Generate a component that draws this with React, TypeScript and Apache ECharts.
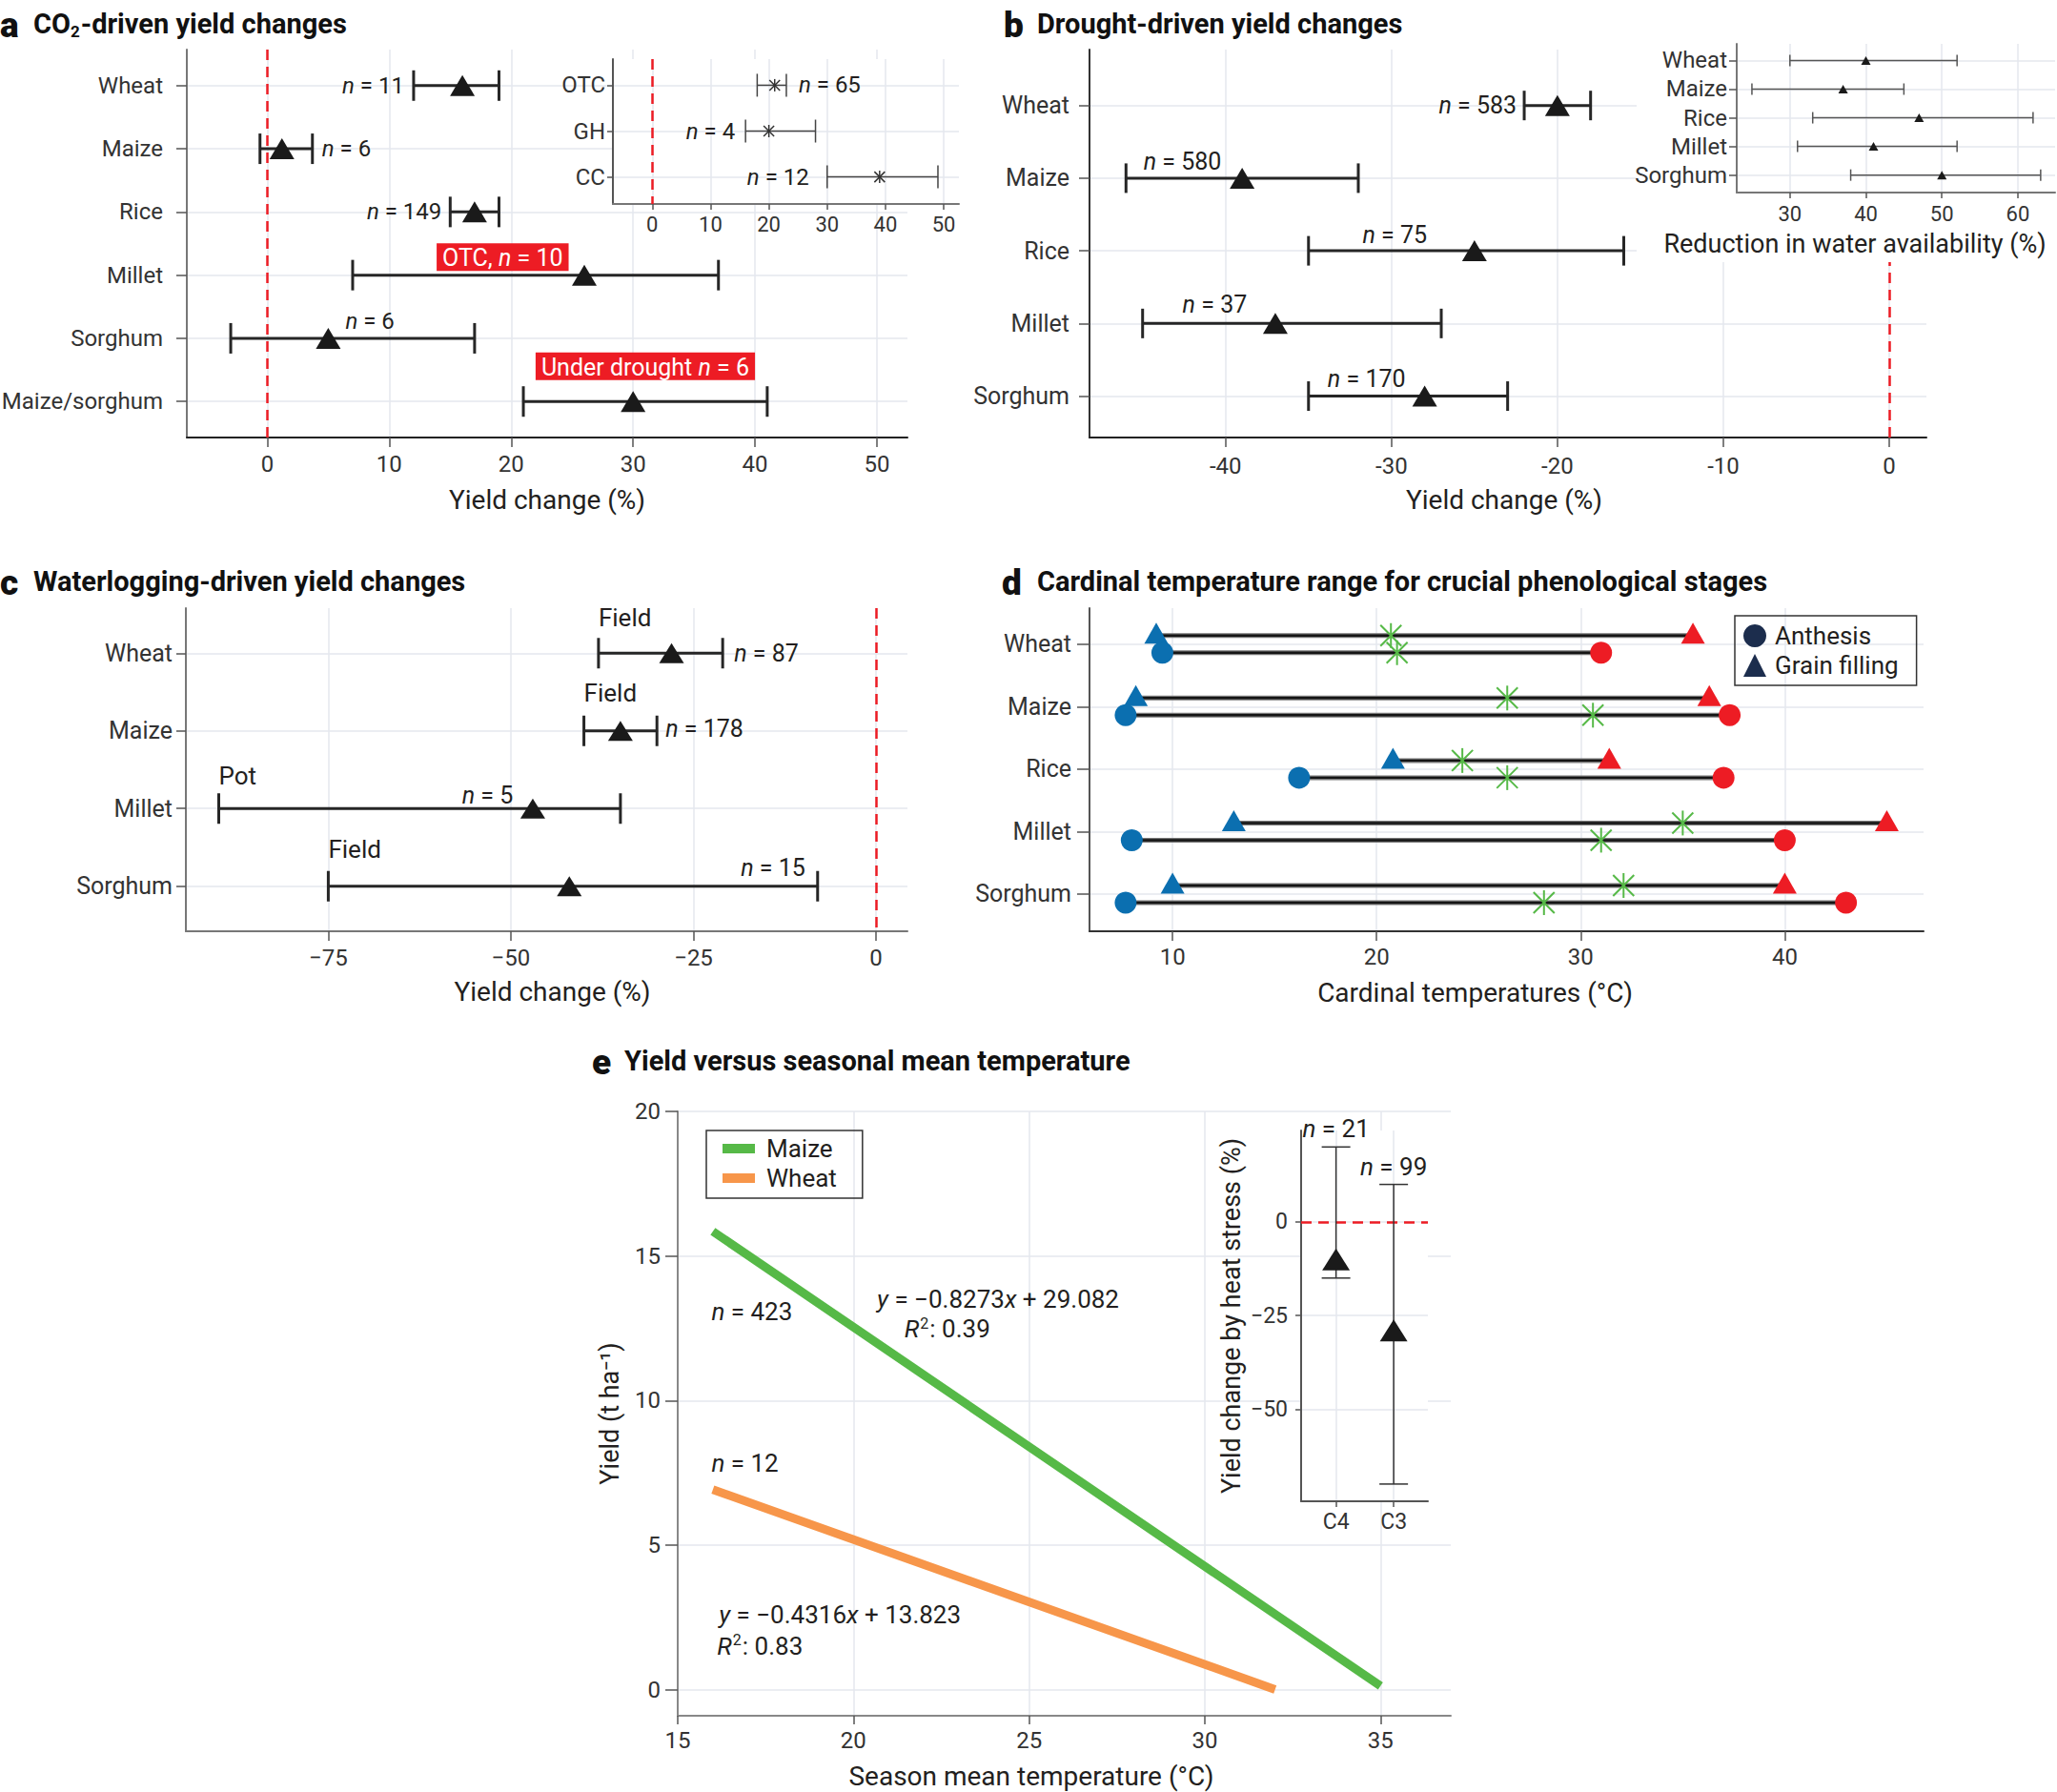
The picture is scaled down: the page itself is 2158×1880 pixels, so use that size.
import React, { useEffect, useRef } from 'react';
import * as echarts from 'echarts';

const FF = 'Roboto, "Noto Sans", "DejaVu Sans", sans-serif';
const INK = '#231f20';
const GRIDC = '#e5e7ee';
const RED = '#ed1c24';
const BLUE = '#0b6fb0';
const GREEN = '#56b947';
const NAVY = '#1c2d4d';
const BAR = '#262626';

// ---------- panel a: CO2-driven yield changes ----------
const aCrops = ['Wheat', 'Maize', 'Rice', 'Millet', 'Sorghum', 'Maize/sorghum'];
const aMean = [16, 1.2, 17, 26, 5, 30];
const aLow = [12, -0.6, 15, 7, -3, 21];
const aHigh = [19, 3.7, 19, 37, 17, 41];
const aN = [11, 6, 149, 10, 6, 6];
const aTicks = [0, 10, 20, 30, 40, 50];

const aiSystems = ['OTC', 'GH', 'CC'];
const aiMean = [21, 20, 39];
const aiLow = [18, 16, 30];
const aiHigh = [23, 28, 49];
const aiN = [65, 4, 12];

// ---------- panel b: drought ----------
const bCrops = ['Wheat', 'Maize', 'Rice', 'Millet', 'Sorghum'];
const bMean = [-20, -39, -25, -37, -28];
const bLow = [-22, -46, -35, -45, -35];
const bHigh = [-18, -32, -16, -27, -23];
const bN = [583, 580, 75, 37, 170];
const bTicks = [-40, -30, -20, -10, 0];

const biMean = [40, 37, 47, 41, 50];
const biLow = [30, 25, 33, 31, 38];
const biHigh = [52, 45, 62, 52, 63];
const biTicks = [30, 40, 50, 60];

// ---------- panel c: waterlogging ----------
const cCrops = ['Wheat', 'Maize', 'Millet', 'Sorghum'];
const cMean = [-28, -35, -47, -42];
const cLow = [-38, -40, -90, -75];
const cHigh = [-21, -30, -35, -8];
const cN = [87, 178, 5, 15];
const cSetting = ['Field', 'Field', 'Pot', 'Field'];
const cTicks = [-75, -50, -25, 0];

// ---------- panel d: cardinal temperatures ----------
const dCrops = ['Wheat', 'Maize', 'Rice', 'Millet', 'Sorghum'];
const dGrainMin = [9.2, 8.2, 20.8, 13, 10];
const dGrainOpt = [20.7, 26.4, 24.2, 35, 32.1];
const dGrainMax = [35.5, 36.3, 31.4, 45, 40];
const dAnthMin = [9.5, 7.7, 16.2, 8, 7.7];
const dAnthOpt = [21, 30.6, 26.4, 31, 28.2];
const dAnthMax = [31, 37.3, 37, 40, 43];
const dTicks = [10, 20, 30, 40];

// ---------- panel e: yield vs seasonal mean temperature ----------
const eMaizeLine = [[16, 15.85], [35, 0.13]];
const eWheatLine = [[16, 6.92], [32, 0.01]];
const eTicksX = [15, 20, 25, 30, 35];
const eTicksY = [0, 5, 10, 15, 20];
const eiGroups = ['C4', 'C3'];
const eiMean = [-10, -29];
const eiLow = [-15, -70];
const eiHigh = [20, 10];
const eiN = [21, 99];
const eiTicksY = [-50, -25, 0];

// ---------- helpers ----------
const nTxt = (n: number) => `{i|n} = ${n}`;
const minus = (v: number) => String(v).replace('-', '\u2212');
const idx = (n: number) => Array.from({ length: n }, (_, i) => i);
const cat = (arr: string[]) => (v: number) => arr[Math.round(v)] ?? '';

function rich(size: number, color: string, weight: any = 'normal') {
  const base = { fontFamily: FF, fontSize: size, fontWeight: weight, color, fill: color };
  return {
    i: { ...base, fontStyle: 'italic' },
    sup: { ...base, fontSize: Math.round(size * 0.6), padding: [0, 1, Math.round(size * 0.45), 1] },
    sub: { ...base, fontSize: Math.round(size * 0.6), padding: [Math.round(size * 0.5), 1, 0, 0] },
  };
}

function vAxis(p: any) {
  return {
    type: 'value',
    gridIndex: p.grid,
    min: p.min,
    max: p.max,
    inverse: !!p.inverse,
    z: p.z ?? 0,
    axisLine: { show: true, onZero: false, lineStyle: { color: p.lineColor ?? '#333', width: 2 } },
    axisTick: { show: true, length: p.tickLen ?? 10, customValues: p.ticks, lineStyle: { color: '#555', width: 1.5 } },
    axisLabel: {
      customValues: p.ticks,
      formatter: p.fmt,
      fontSize: p.size ?? 24,
      margin: p.margin ?? 16,
      color: '#333',
      fontFamily: FF,
    },
    splitLine: { show: true, lineStyle: { color: GRIDC, width: 1.5 } },
    name: p.name,
    nameLocation: 'middle',
    nameGap: p.nameGap,
    nameRotate: p.nameRotate,
    nameTextStyle: { fontSize: p.nameSize ?? 28, color: INK, fontFamily: FF, padding: p.namePad ?? 0 },
  };
}

function hBars(axis: number, lo: number[], hi: number[], cap: number, width: number, color: string, z: number) {
  return {
    type: 'custom',
    xAxisIndex: axis,
    yAxisIndex: axis,
    z,
    silent: true,
    encode: { x: [0, 1], y: 2 },
    data: lo.map((l, i) => [l, hi[i], i]),
    renderItem: (_p: any, api: any) => {
      const r = api.value(2);
      const a = api.coord([api.value(0), r]);
      const b = api.coord([api.value(1), r]);
      const st = { stroke: color, lineWidth: width };
      return {
        type: 'group',
        children: [
          { type: 'line', shape: { x1: a[0], y1: a[1], x2: b[0], y2: b[1] }, style: st },
          { type: 'line', shape: { x1: a[0], y1: a[1] - cap, x2: a[0], y2: a[1] + cap }, style: st },
          { type: 'line', shape: { x1: b[0], y1: b[1] - cap, x2: b[0], y2: b[1] + cap }, style: st },
        ],
      };
    },
  };
}

function vBars(axis: number, lo: number[], hi: number[], cap: number, width: number, color: string, z: number) {
  return {
    type: 'custom',
    xAxisIndex: axis,
    yAxisIndex: axis,
    z,
    silent: true,
    encode: { x: 0, y: [1, 2] },
    data: lo.map((l, i) => [i, l, hi[i]]),
    renderItem: (_p: any, api: any) => {
      const x = api.value(0);
      const a = api.coord([x, api.value(1)]);
      const b = api.coord([x, api.value(2)]);
      const st = { stroke: color, lineWidth: width };
      return {
        type: 'group',
        children: [
          { type: 'line', shape: { x1: a[0], y1: a[1], x2: b[0], y2: b[1] }, style: st },
          { type: 'line', shape: { x1: a[0] - cap, y1: a[1], x2: a[0] + cap, y2: a[1] }, style: st },
          { type: 'line', shape: { x1: b[0] - cap, y1: b[1], x2: b[0] + cap, y2: b[1] }, style: st },
        ],
      };
    },
  };
}

function starEls(x: number, y: number, rv: number, rd: number, color: string, w: number) {
  const st = { stroke: color, lineWidth: w };
  return [
    { type: 'line', shape: { x1: x, y1: y - rv, x2: x, y2: y + rv }, style: st },
    { type: 'line', shape: { x1: x - rd, y1: y - rd, x2: x + rd, y2: y + rd }, style: st },
    { type: 'line', shape: { x1: x - rd, y1: y + rd, x2: x + rd, y2: y - rd }, style: st },
  ];
}

function starSeries(axis: number, xs: number[], z: number) {
  return {
    type: 'custom',
    xAxisIndex: axis,
    yAxisIndex: axis,
    z,
    silent: true,
    data: xs.map((x, i) => [x, i]),
    renderItem: (_p: any, api: any) => {
      const p = api.coord([api.value(0), api.value(1)]);
      return { type: 'group', children: starEls(p[0], p[1], 6.5, 5.5, '#333', 1.5) };
    },
  };
}

function triScatter(axis: number, data: number[][], size: number[], z: number, markLine?: any, symbol = 'triangle') {
  return {
    type: 'scatter',
    xAxisIndex: axis,
    yAxisIndex: axis,
    z,
    silent: true,
    symbol,
    symbolSize: size,
    itemStyle: { color: '#1a1a1a', opacity: 1 },
    data,
    markLine,
  };
}

function redLine(z: number, pos: any) {
  return {
    silent: true,
    z,
    symbol: 'none',
    label: { show: false },
    lineStyle: { color: RED, width: 2.5, type: [11, 7] },
    data: [pos],
  };
}

type Ann = { x: number; y: number; text: string; align?: string; dx?: number; dy?: number; size?: number; box?: boolean };

function annSeries(axis: number, anns: Ann[], z: number) {
  return {
    type: 'custom',
    xAxisIndex: axis,
    yAxisIndex: axis,
    z,
    silent: true,
    data: anns.map((a) => [a.x, a.y]),
    renderItem: (params: any, api: any) => {
      const a = anns[params.dataIndex];
      const p = api.coord([api.value(0), api.value(1)]);
      const size = a.size ?? 25;
      const color = a.box ? '#ffffff' : INK;
      const style: any = {
        text: a.text,
        fontFamily: FF,
        fontSize: size,
        fill: color,
        align: a.align ?? 'left',
        verticalAlign: 'middle',
        rich: rich(size, color),
      };
      if (a.box) {
        style.backgroundColor = RED;
        style.padding = [3, 6, 1, 6];
      }
      return { type: 'text', x: p[0] + (a.dx ?? 0), y: p[1] + (a.dy ?? 0), style };
    },
  };
}

function dSeries(name: string, mins: number[], opts: number[], maxs: number[], shape: string, dy: number) {
  return {
    type: 'custom',
    name,
    xAxisIndex: 5,
    yAxisIndex: 5,
    z: 2,
    silent: true,
    itemStyle: { color: NAVY },
    encode: { x: [0, 1, 2], y: 3 },
    data: mins.map((m, i) => [m, maxs[i], opts[i], i]),
    renderItem: (_p: any, api: any) => {
      const row = api.value(3);
      const a = api.coord([api.value(0), row]);
      const b = api.coord([api.value(1), row]);
      const o = api.coord([api.value(2), row]);
      const y = a[1] + dy;
      const marker = (x: number, color: string) =>
        shape === 'circle'
          ? { type: 'circle', shape: { cx: x, cy: y, r: 11.5 }, style: { fill: color } }
          : { type: 'polygon', shape: { points: [[x, y - 13.5], [x - 12.5, y + 8.5], [x + 12.5, y + 8.5]] }, style: { fill: color } };
      return {
        type: 'group',
        children: [
          { type: 'line', shape: { x1: a[0], y1: y, x2: b[0], y2: y }, style: { stroke: '#777', lineWidth: 5 } },
          { type: 'line', shape: { x1: a[0], y1: y, x2: b[0], y2: y }, style: { stroke: '#151515', lineWidth: 2.4 } },
          ...starEls(o[0], y, 13, 11, GREEN, 2),
          marker(a[0], BLUE),
          marker(b[0], RED),
        ],
      };
    },
  };
}

function buildOption(): any {
  const aAnns: Ann[] = [
    { x: aLow[0], y: 0, text: nTxt(aN[0]), align: 'right', dx: -10, size: 24 },
    { x: aHigh[1], y: 1, text: nTxt(aN[1]), align: 'left', dx: 10, size: 24 },
    { x: aLow[2], y: 2, text: nTxt(aN[2]), align: 'right', dx: -9, size: 24 },
    { x: 19.3, y: 3, text: 'OTC, ' + nTxt(aN[3]), align: 'center', dy: -19, box: true, size: 25 },
    { x: aMean[4], y: 4, text: nTxt(aN[4]), align: 'left', dx: 18, dy: -18, size: 24 },
    { x: 31, y: 5, text: 'Under drought ' + nTxt(aN[5]), align: 'center', dy: -37, box: true, size: 25 },
  ];
  const aiAnns: Ann[] = [
    { x: aiHigh[0], y: 0, text: nTxt(aiN[0]), align: 'left', dx: 13, size: 24 },
    { x: aiLow[1], y: 1, text: nTxt(aiN[1]), align: 'right', dx: -11, size: 24 },
    { x: aiLow[2], y: 2, text: nTxt(aiN[2]), align: 'right', dx: -19, size: 24 },
  ];
  const bAnns: Ann[] = [
    { x: bLow[0], y: 0, text: nTxt(bN[0]), align: 'right', dx: -8 },
    { x: -42.6, y: 1, text: nTxt(bN[1]), align: 'center', dy: -17 },
    { x: -29.8, y: 2, text: nTxt(bN[2]), align: 'center', dy: -17 },
    { x: -40.65, y: 3, text: nTxt(bN[3]), align: 'center', dy: -20 },
    { x: -31.5, y: 4, text: nTxt(bN[4]), align: 'center', dy: -18 },
  ];
  const cAnns: Ann[] = [
    { x: cLow[0], y: 0, text: cSetting[0], dy: -37, size: 26 },
    { x: cHigh[0], y: 0, text: nTxt(cN[0]), dx: 12 },
    { x: cLow[1], y: 1, text: cSetting[1], dy: -40, size: 26 },
    { x: cHigh[1], y: 1, text: nTxt(cN[1]), dx: 9, dy: -2 },
    { x: cLow[2], y: 2, text: cSetting[2], dy: -34, size: 26 },
    { x: -53.2, y: 2, text: nTxt(cN[2]), align: 'center', dy: -14 },
    { x: cLow[3], y: 3, text: cSetting[3], dy: -39, size: 26 },
    { x: cHigh[3], y: 3, text: nTxt(cN[3]), align: 'right', dx: -13, dy: -19 },
  ];
  const eAnns: Ann[] = [
    { x: 15.96, y: 13.09, text: '{i|n} = 423', size: 26 },
    { x: 20.67, y: 13.5, text: '{i|y} = \u22120.8273{i|x} + 29.082', size: 26 },
    { x: 21.45, y: 12.47, text: '{i|R}{sup|2}: 0.39', size: 26 },
    { x: 15.96, y: 7.84, text: '{i|n} = 12', size: 26 },
    { x: 16.17, y: 2.6, text: '{i|y} = \u22120.4316{i|x} + 13.823', size: 26 },
    { x: 16.12, y: 1.51, text: '{i|R}{sup|2}: 0.83', size: 26 },
  ];
  const eiAnns: Ann[] = [
    { x: 0, y: eiHigh[0], text: nTxt(eiN[0]), align: 'center', dy: -19, size: 26 },
    { x: 1, y: eiHigh[1], text: nTxt(eiN[1]), align: 'center', dy: -19, size: 26 },
  ];

  const titles = [
    { letter: 'a', lx: 0, tx: 35, y: 25, text: 'CO{sub|2}-driven yield changes' },
    { letter: 'b', lx: 1053, tx: 1088, y: 25, text: 'Drought-driven yield changes' },
    { letter: 'c', lx: 0, tx: 35, y: 610, text: 'Waterlogging-driven yield changes' },
    { letter: 'd', lx: 1051, tx: 1088, y: 610, text: 'Cardinal temperature range for crucial phenological stages' },
    { letter: 'e', lx: 621, tx: 655, y: 1113, text: 'Yield versus seasonal mean temperature' },
  ];
  const graphics: any[] = [];
  titles.forEach((t) => {
    graphics.push({
      type: 'text', x: t.lx, y: t.y + 1, z: 10,
      style: { text: t.letter, fontFamily: FF, fontSize: 37, fontWeight: 900, fill: '#111', align: 'left', verticalAlign: 'middle' },
    });
    graphics.push({
      type: 'text', x: t.tx, y: t.y, z: 10,
      style: {
        text: t.text, fontFamily: FF, fontSize: 29, fontWeight: 'bold', fill: '#111', align: 'left', verticalAlign: 'middle',
        rich: rich(29, '#111', 'bold'),
      },
    });
  });
  // white backgrounds behind the insets
  graphics.push({ type: 'rect', z: 4, shape: { x: 643, y: 62, width: 363, height: 152 }, style: { fill: '#fff' } });
  graphics.push({ type: 'rect', z: 4, shape: { x: 1717, y: 36, width: 441, height: 239 }, style: { fill: '#fff' } });
  graphics.push({ type: 'rect', z: 4, shape: { x: 1366, y: 1186, width: 132, height: 388 }, style: { fill: '#fff' } });

  return {
    animation: false,
    backgroundColor: '#ffffff',
    textStyle: { fontFamily: FF },
    grid: [
      { left: 196, top: 52, width: 756, height: 407, outerBoundsMode: 'none' },
      { left: 643, top: 62, width: 363, height: 152, outerBoundsMode: 'none' },
      { left: 1143, top: 52, width: 878, height: 407, outerBoundsMode: 'none' },
      { left: 1822, top: 46, width: 334, height: 156, outerBoundsMode: 'none' },
      { left: 195, top: 638, width: 757, height: 339, outerBoundsMode: 'none' },
      { left: 1143, top: 638, width: 875, height: 339, outerBoundsMode: 'none' },
      { left: 711, top: 1166, width: 811, height: 634, outerBoundsMode: 'none' },
      { left: 1365, top: 1186, width: 133, height: 389, outerBoundsMode: 'none' },
    ],
    xAxis: [
      vAxis({ grid: 0, min: -6.6, max: 52.5, ticks: aTicks, lineColor: '#222', margin: 16, name: 'Yield change (%)', nameGap: 51 }),
      vAxis({ grid: 1, min: -6.75, max: 52.6, ticks: aTicks, size: 22, margin: 10, tickLen: 6, z: 5, lineColor: '#777' }),
      vAxis({ grid: 2, min: -48.2, max: 2.24, ticks: bTicks, lineColor: '#222', margin: 18, name: 'Yield change (%)', nameGap: 51, namePad: [0, 8, 0, 0] }),
      vAxis({ grid: 3, min: 23, max: 64.9, ticks: biTicks, size: 22, margin: 11, tickLen: 6, z: 5, lineColor: '#777', name: 'Reduction in water availability (%)', nameGap: 40, nameSize: 27, namePad: [0, 86, 0, 0] }),
      vAxis({ grid: 4, min: -94.5, max: 4.3, ticks: cTicks, fmt: minus, lineColor: '#777', margin: 16, name: 'Yield change (%)', nameGap: 49, namePad: [0, 0, 0, 12] }),
      vAxis({ grid: 5, min: 5.93, max: 46.8, ticks: dTicks, lineColor: '#333', margin: 15, name: 'Cardinal temperatures (°C)', nameGap: 50, namePad: [0, 66, 0, 0] }),
      vAxis({ grid: 6, min: 15, max: 37, ticks: eTicksX, lineColor: '#888', margin: 14, tickLen: 9, name: 'Season mean temperature (°C)', nameGap: 49, namePad: [0, 69, 0, 0] }),
      vAxis({ grid: 7, min: -0.605, max: 1.593, ticks: [0, 1], fmt: cat(eiGroups), size: 23, margin: 10, tickLen: 6, z: 5, lineColor: '#555' }),
    ],
    yAxis: [
      vAxis({ grid: 0, min: -0.57, max: 5.57, inverse: true, ticks: idx(6), fmt: cat(aCrops), size: 24, margin: 25, tickLen: 11, lineColor: '#777' }),
      vAxis({ grid: 1, min: -0.57, max: 2.59, inverse: true, ticks: idx(3), fmt: cat(aiSystems), size: 24, margin: 8, tickLen: 6, z: 5, lineColor: '#555' }),
      vAxis({ grid: 2, min: -0.77, max: 4.57, inverse: true, ticks: idx(5), fmt: cat(bCrops), size: 25, margin: 21, tickLen: 11, lineColor: '#333' }),
      vAxis({ grid: 3, min: -0.58, max: 4.61, inverse: true, ticks: idx(5), fmt: cat(bCrops), size: 24, margin: 10, tickLen: 8, z: 5, lineColor: '#777' }),
      vAxis({ grid: 4, min: -0.58, max: 3.58, inverse: true, ticks: idx(4), fmt: cat(cCrops), size: 25, margin: 14, tickLen: 10, lineColor: '#777' }),
      vAxis({ grid: 5, min: -0.576, max: 4.595, inverse: true, ticks: idx(5), fmt: cat(dCrops), size: 25, margin: 19, tickLen: 13, lineColor: '#555' }),
      vAxis({ grid: 6, min: -0.9, max: 20, ticks: eTicksY, size: 24, margin: 18, tickLen: 13, lineColor: '#888', name: 'Yield (t ha\u207B\u00B9)', nameGap: 58, nameRotate: 90, nameSize: 27 }),
      vAxis({ grid: 7, min: -74.6, max: 24.4, ticks: eiTicksY, fmt: minus, size: 23, margin: 14, tickLen: 6, z: 5, lineColor: '#555', name: 'Yield change by heat stress (%)', nameGap: 60, nameRotate: 90, nameSize: 27 }),
    ],
    legend: [
      {
        show: true, orient: 'vertical', left: 1820, top: 646, selectedMode: false,
        data: [
          { name: 'Anthesis', icon: 'circle', itemStyle: { color: NAVY } },
          { name: 'Grain filling', icon: 'triangle', itemStyle: { color: NAVY } },
        ],
        itemWidth: 24, itemHeight: 24, itemGap: 5, padding: [8, 19, 8, 9],
        borderColor: '#333', borderWidth: 1.5,
        textStyle: { fontSize: 26, color: INK, fontFamily: FF, padding: [0, 0, 0, 4] },
      },
      {
        show: true, orient: 'vertical', left: 741, top: 1186, selectedMode: false,
        data: ['Maize', 'Wheat'], icon: 'rect',
        itemWidth: 34, itemHeight: 10, itemGap: 5, padding: [6, 27, 8, 17],
        borderColor: '#333', borderWidth: 1.5,
        textStyle: { fontSize: 26, color: INK, fontFamily: FF, padding: [0, 0, 0, 7] },
      },
    ],
    graphic: graphics,
    series: [
      // a
      annSeries(0, aAnns, 1),
      hBars(0, aLow, aHigh, 16, 3, BAR, 2),
      triScatter(0, aMean.map((m, i) => [m, i]), [26, 22], 3, redLine(2, { xAxis: 0 })),
      // a inset
      hBars(1, aiLow, aiHigh, 12, 1.5, '#444', 6),
      starSeries(1, aiMean, 7),
      triScatter(1, aiMean.map((m, i) => [m, i]), [1, 1], 7, redLine(6, { xAxis: 0 }), 'none'),
      annSeries(1, aiAnns, 7),
      // b
      annSeries(2, bAnns, 1),
      hBars(2, bLow, bHigh, 15.5, 3, BAR, 2),
      triScatter(2, bMean.map((m, i) => [m, i]), [26, 22], 3, redLine(2, { xAxis: 0 })),
      // b inset
      hBars(3, biLow, biHigh, 6, 1.5, '#555', 6),
      triScatter(3, biMean.map((m, i) => [m, i]), [10, 9], 7),
      // c
      annSeries(4, cAnns, 1),
      hBars(4, cLow, cHigh, 16, 3, BAR, 2),
      triScatter(4, cMean.map((m, i) => [m, i]), [26, 21], 3, redLine(2, { xAxis: 0 })),
      // d
      dSeries('Grain filling', dGrainMin, dGrainOpt, dGrainMax, 'triangle', -9),
      dSeries('Anthesis', dAnthMin, dAnthOpt, dAnthMax, 'circle', 9),
      // e
      {
        type: 'line', name: 'Maize', xAxisIndex: 6, yAxisIndex: 6, z: 2, silent: true,
        data: eMaizeLine, showSymbol: false, symbol: 'none', color: GREEN,
        itemStyle: { color: GREEN }, lineStyle: { color: GREEN, width: 9 },
      },
      {
        type: 'line', name: 'Wheat', xAxisIndex: 6, yAxisIndex: 6, z: 2, silent: true,
        data: eWheatLine, showSymbol: false, symbol: 'none', color: '#f7964a',
        itemStyle: { color: '#f7964a' }, lineStyle: { color: '#f7964a', width: 9 },
      },
      annSeries(6, eAnns, 3),
      // e inset
      vBars(7, eiLow, eiHigh, 15, 1.5, '#333', 6),
      triScatter(7, eiMean.map((m, i) => [i, m]), [29, 23], 7, redLine(6, { yAxis: 0 })),
      annSeries(7, eiAnns, 7),
    ],
  };
}

export default function App() {
  const ref = useRef<HTMLDivElement>(null);
  useEffect(() => {
    document.body.style.margin = '0';
    const chart = echarts.init(ref.current as HTMLDivElement, undefined, { renderer: 'svg', width: 2158, height: 1880 });
    chart.setOption(buildOption());
    return () => chart.dispose();
  }, []);
  return <div ref={ref} style={{ width: 2158, height: 1880, background: '#fff' }} />;
}
